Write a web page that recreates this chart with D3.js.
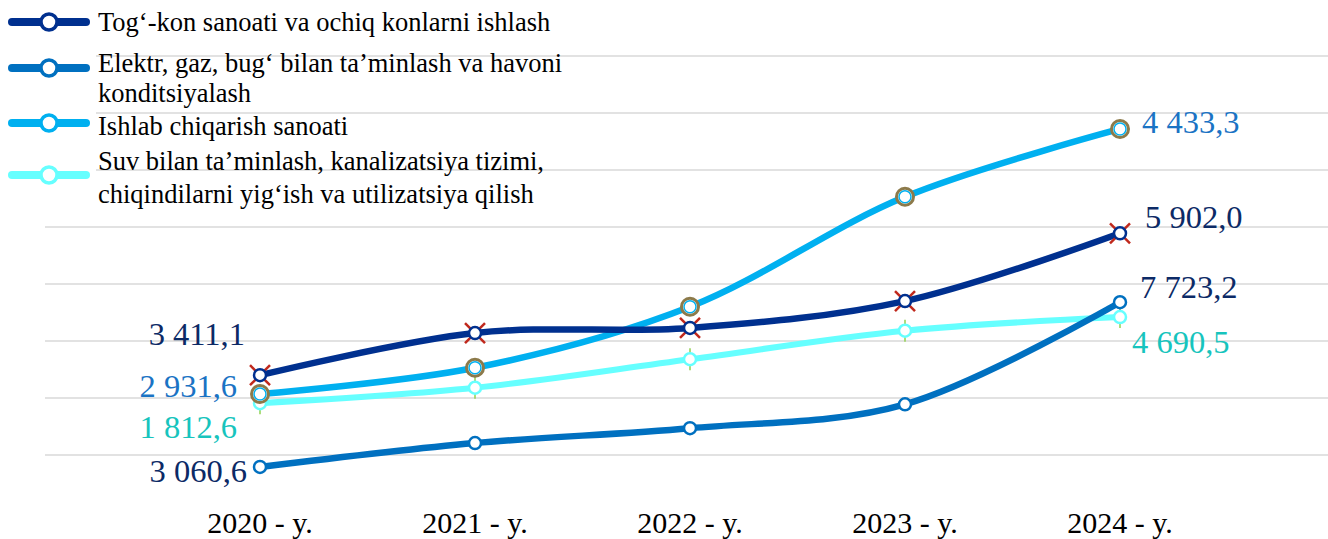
<!DOCTYPE html>
<html>
<head>
<meta charset="UTF-8">
<title>Sanoat tarmoqlari</title>
<script src="https://cdn.jsdelivr.net/npm/d3@7"></script>
<style>
  body { margin: 0; background: #ffffff; }
  svg { display: block; }
</style>
</head>
<body>
<svg width="1328" height="539"></svg>
<script>
// x categories
const years = ["2020 - y.", "2021 - y.", "2022 - y.", "2023 - y.", "2024 - y."];

// series names (legend order)
const seriesNames = [
  "Tog‘-kon sanoati va ochiq konlarni ishlash",
  "Elektr, gaz, bug‘ bilan ta’minlash va havoni konditsiyalash",
  "Ishlab chiqarish sanoati",
  "Suv bilan ta’minlash, kanalizatsiya tizimi, chiqindilarni yig‘ish va utilizatsiya qilish"
];

// plotted positions of each series (in gridline units)
const togKon = [2.40, 3.14, 3.23, 3.70, 4.89];
const elektr = [0.79, 1.21, 1.47, 1.89, 3.68];
const ishlab = [2.07, 2.53, 3.60, 5.53, 6.72];
const suv    = [1.91, 2.18, 2.68, 3.18, 3.42];

// value labels shown at the first and last year
const firstLabels = ["3 411,1", "3 060,6", "2 931,6", "1 812,6"];
const lastLabels  = ["5 902,0", "7 723,2", "4 433,3", "4 690,5"];

const gridTicks = [1, 2, 3, 4, 5, 6, 7, 8];

// styling
const lineColors  = ["#00308f", "#0070c0", "#00b0f0", "#66ffff"];
const labelColors = ["#0c2a66", "#0c2a66", "#1a73c4", "#17c4bd"];
// label offsets from the point: [dx, dy] for first and last
const firstOff = [[-15, -30], [-13, 15], [-23, 3], [-23, 35]];
const lastOff  = [[25, -5], [20, -4], [22, 4], [12, 36]];

const svg = d3.select("svg");
const allSeries = [togKon, elektr, ishlab, suv];

const x = d3.scalePoint().domain(years).range([260, 1120]);
const y = d3.scaleLinear().domain([0, 8]).range([512, 56]);

// gridlines
svg.append("g")
  .selectAll("line")
  .data(gridTicks)
  .join("line")
  .attr("x1", 45)
  .attr("x2", 1328)
  .attr("y1", d => y(d))
  .attr("y2", d => y(d))
  .attr("stroke", "#d9d9d9")
  .attr("stroke-width", 1.5);

// x axis labels
svg.append("g")
  .selectAll("text")
  .data(years)
  .join("text")
  .attr("x", d => x(d))
  .attr("y", 533)
  .attr("text-anchor", "middle")
  .attr("font-family", "Liberation Serif, Times New Roman, serif")
  .attr("font-size", 30)
  .attr("fill", "#000")
  .text(d => d);

const line = d3.line()
  .x((d, i) => x(years[i]))
  .y(d => y(d))
  .curve(d3.curveCatmullRom.alpha(0.5));

// draw in an order close to the picture (light lines below)
const drawOrder = [3, 1, 2, 0];
drawOrder.forEach(k => {
  svg.append("path")
    .datum(allSeries[k])
    .attr("d", line)
    .attr("fill", "none")
    .attr("stroke", lineColors[k])
    .attr("stroke-width", k === 3 ? 6 : 6.5)
    .attr("stroke-linecap", "round");
});

// markers
function drawMarker(g, k) {
  if (k === 0) {
    const a = 10;
    [[-a, -a, a, a], [-a, a, a, -a]].forEach(p => {
      g.append("line")
        .attr("x1", p[0]).attr("y1", p[1]).attr("x2", p[2]).attr("y2", p[3])
        .attr("stroke", "#c0281c").attr("stroke-width", 2.5);
    });
  }
  if (k === 2) {
    g.append("circle").attr("r", 8.5)
      .attr("fill", "#fff").attr("stroke", "#8c7a4a").attr("stroke-width", 3);
  }
  if (k === 3) {
    [[-11, -6], [6, 11]].forEach(p => {
      g.append("line")
        .attr("x1", 0).attr("x2", 0).attr("y1", p[0]).attr("y2", p[1])
        .attr("stroke", "#92d050").attr("stroke-width", 1.5);
    });
  }
  g.append("circle")
    .attr("r", 6)
    .attr("fill", "#fff")
    .attr("stroke", lineColors[k])
    .attr("stroke-width", k === 2 ? 1.5 : 2.5);
}

drawOrder.forEach(k => {
  allSeries[k].forEach((v, i) => {
    const g = svg.append("g")
      .attr("transform", `translate(${x(years[i])},${y(v)})`);
    drawMarker(g, k);
  });
});

// value labels
const labelFont = "Liberation Serif, Cambria, serif";
allSeries.forEach((s, k) => {
  svg.append("text")
    .attr("x", x(years[0]) + firstOff[k][0])
    .attr("y", y(s[0]) + firstOff[k][1])
    .attr("text-anchor", "end")
    .attr("font-family", labelFont)
    .attr("font-size", 32.5)
    .attr("fill", labelColors[k])
    .text(firstLabels[k]);
  svg.append("text")
    .attr("x", x(years[years.length - 1]) + lastOff[k][0])
    .attr("y", y(s[s.length - 1]) + lastOff[k][1])
    .attr("text-anchor", "start")
    .attr("font-family", labelFont)
    .attr("font-size", 32.5)
    .attr("fill", labelColors[k])
    .text(lastLabels[k]);
});

// legend
const legend = svg.append("g");
legend.append("rect")
  .attr("x", 0).attr("y", 0).attr("width", 96).attr("height", 210)
  .attr("fill", "#fff");

const legendRows = [22, 68, 123, 175];
const legendText = [
  [[31, seriesNames[0]]],
  [[72, "Elektr, gaz, bug‘ bilan ta’minlash va havoni"], [102, "konditsiyalash"]],
  [[135, seriesNames[2]]],
  [[170, "Suv bilan ta’minlash, kanalizatsiya tizimi,"], [203, "chiqindilarni yig‘ish va utilizatsiya qilish"]]
];

legendRows.forEach((ly, k) => {
  legend.append("line")
    .attr("x1", 12).attr("x2", 86)
    .attr("y1", ly).attr("y2", ly)
    .attr("stroke", lineColors[k])
    .attr("stroke-width", 8)
    .attr("stroke-linecap", "round");
  legend.append("circle")
    .attr("cx", 49).attr("cy", ly).attr("r", 8)
    .attr("fill", "#fff").attr("stroke", lineColors[k]).attr("stroke-width", 3.5);
  const t = legend.append("text")
    .attr("font-family", "Liberation Serif, Times New Roman, serif")
    .attr("font-size", 26.5)
    .attr("fill", "#000");
  legendText[k].forEach(([by, txt]) => {
    t.append("tspan").attr("x", 98).attr("y", by).text(txt);
  });
});
</script>
</body>
</html>
